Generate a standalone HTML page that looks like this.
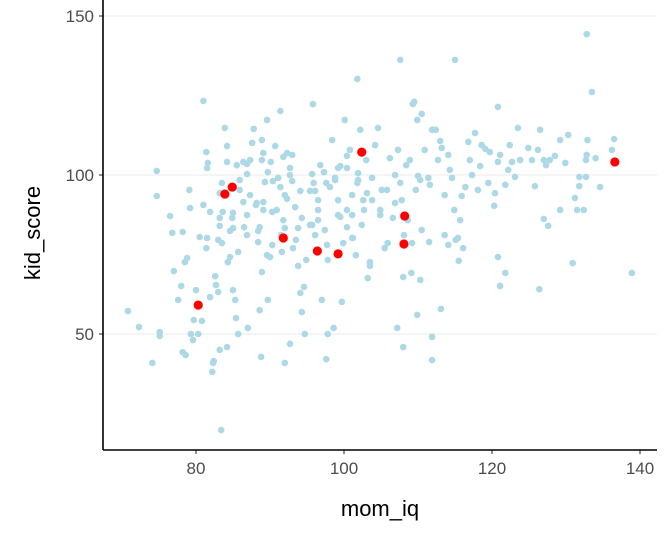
<!DOCTYPE html>
<html><head><meta charset="utf-8"><style>
html,body{margin:0;padding:0;background:#fff;}
svg{display:block;font-family:"Liberation Sans",sans-serif;}
</style></head><body>
<svg id="chart" width="672" height="537" viewBox="0 0 672 537" xmlns="http://www.w3.org/2000/svg">
<g id="grid"></g>
<g id="pts"></g>
<g id="hl"></g>
<g id="axes"></g>
<text x="380" y="516" text-anchor="middle" font-size="22" fill="#000">mom_iq</text>
<text transform="translate(40,233) rotate(-90)" text-anchor="middle" font-size="22" fill="#000">kid_score</text>
</svg>
<script>
const momIq=[70.8,72.3,74.1,74.7,74.7,75.1,75.1,76.5,77.0,76.8,77.6,78.0,78.2,78.2,78.5,78.6,78.8,79.1,79.2,79.3,79.6,79.7,80.0,80.3,80.5,80.8,81.0,81.0,81.4,81.6,81.4,81.9,82.2,82.4,82.6,82.7,83.0,83.0,83.2,83.2,83.5,83.9,84.2,84.3,84.6,85.0,85.3,85.4,85.9,85.9,86.5,86.9,87.3,87.6,87.8,88.1,88.4,88.6,88.9,88.9,89.1,89.3,89.7,90.0,90.3,90.7,91.1,91.5,91.8,92.0,92.7,93.0,93.5,93.8,94.1,94.3,94.6,94.9,95.4,95.9,96.5,96.8,97.0,97.4,97.8,98.1,98.4,98.8,99.2,99.5,99.7,100.1,100.4,100.8,101.1,101.2,101.6,101.9,102.2,102.4,102.7,103.0,103.2,103.5,103.8,104.2,104.6,104.9,105.1,105.5,105.9,106.2,106.9,107.3,107.6,107.8,108.1,108.4,108.6,108.9,109.2,109.5,109.7,110.0,110.3,110.5,110.9,111.4,111.6,111.9,112.4,112.7,113.0,113.2,113.6,114.1,114.3,114.6,114.9,115.1,115.4,115.7,115.9,116.4,116.8,117.0,117.3,117.7,118.1,118.4,118.6,119.1,119.5,119.7,120.4,120.8,121.1,121.8,122.2,122.4,122.7,123.1,123.5,123.8,124.9,125.4,125.8,126.2,126.5,127.0,127.3,127.8,128.5,129.2,129.9,130.3,131.2,131.8,132.4,132.7,132.9,134.6,136.2,133.5,132.8,136.5,132.8,134.0,131.8,132.7,138.9,130.9,126.4,120.8,121.8,121.1,115.5,113.1,109.9,107.2,108.0,111.9,111.9,108.0,109.1,110.3,111.5,114.1,113.6,116.1,127.0,127.6,129.2,131.5,120.3,107.6,115.0,120.8,109.3,110.5,109.9,101.8,95.8,91.4,89.6,83.4,82.3,92.0,88.8,97.6,92.7,94.7,98.6,97.8,87.0,85.7,84.2,83.2,
81.5,84.2,85.5,86.4,86.9,88.9,89.1,90.1,89.7,91.8,92.3,92.7,89.3,90.4,91.4,93.0,94.1,95.4,96.1,95.7,97.3,97.6,98.8,99.2,100.4,100.4,101.9,101.8,103.1,86.4,87.3,88.2,89.1,90.3,90.9,86.9,85.0,84.9,83.2,83.6,81.9,92.3,93.4,94.3,95.7,96.5,96.5,99.2,99.5,100.4,101.1,102.6,103.8,104.9,106.6,105.8,106.9,92.0,93.8,88.6,85.0,86.9,88.4,81.5,83.5,85.7,84.6,89.6,91.6,93.1,96.1,97.7,99.9,101.1,103.5];
const kidScore=[57.2,52.2,40.9,101.3,93.4,50.6,49.4,87.1,69.8,81.8,60.7,65.1,82.1,44.3,72.6,43.4,73.9,95.3,89.6,50.0,48.1,54.4,63.8,50.0,80.5,54.1,123.3,90.6,107.2,103.8,77.0,61.6,38.1,41.5,68.2,65.4,63.2,79.6,84.0,94.3,97.5,114.8,109.1,72.6,82.4,63.8,60.7,55.0,95.3,98.4,83.6,103.5,104.7,110.1,114.5,90.6,82.4,57.5,104.7,69.5,91.5,97.8,60.7,74.2,78.0,109.1,99.1,81.1,85.8,93.7,102.2,106.3,79.6,71.4,62.9,56.9,64.8,73.3,84.3,97.5,89.0,103.1,60.7,82.7,73.3,96.2,111.0,99.1,87.4,102.8,60.1,117.3,89.0,107.9,93.7,80.2,74.8,98.4,114.2,84.3,89.0,104.7,67.6,71.4,99.1,109.4,114.8,89.0,95.3,77.0,78.6,105.3,100.0,107.9,97.5,92.1,81.1,103.1,85.8,104.7,78.6,123.0,95.3,99.7,98.4,82.7,107.9,99.1,96.9,114.2,114.2,104.7,110.7,108.5,93.7,106.3,101.6,99.1,89.0,79.6,80.2,85.8,93.4,96.2,110.4,104.7,100.0,113.2,95.3,102.8,109.4,108.2,97.5,107.2,94.3,104.1,106.3,96.9,101.6,109.4,104.1,99.4,114.8,104.7,108.5,104.7,96.5,107.9,114.2,104.7,103.1,104.7,106.0,111.0,103.8,112.6,92.8,96.5,89.0,104.7,111.0,96.2,107.9,126.1,144.3,111.3,106.3,105.3,99.4,99.4,69.2,72.3,64.1,74.2,69.2,65.1,73.0,57.9,56.0,51.9,45.9,49.1,41.8,67.9,69.2,67.0,78.9,78.0,81.1,77.0,86.2,84.0,89.0,89.0,90.3,136.2,136.2,121.4,122.3,119.2,117.3,130.2,122.3,120.1,117.3,19.8,40.9,40.9,42.8,42.1,46.9,50.0,51.9,50.0,51.9,50.0,45.9,45.0,
102.2,104.1,103.1,104.1,100.3,111.0,106.9,104.1,100.9,105.7,106.9,100.0,97.8,98.1,96.2,98.1,95.0,95.0,95.0,100.3,100.9,97.5,98.4,102.2,102.2,106.0,100.6,97.5,94.3,91.5,93.7,91.2,89.0,88.4,89.0,87.4,88.1,86.5,86.5,88.4,88.4,92.5,89.9,86.5,84.3,85.8,92.1,92.1,86.8,83.6,87.4,92.1,92.1,87.4,86.5,95.3,91.2,83.3,83.3,83.6,83.3,81.1,78.9,80.2,78.6,75.8,74.2,74.8,75.8,77.0,81.1,78.0,78.6,80.2,72.6];
const hlMomIq=[83.9,84.9,102.4,91.8,80.3,96.4,99.2,108.2,108.1,136.6];
const hlKidScore=[94.0,96.2,107.2,80.2,59.1,76.1,75.2,87.1,78.3,104.1];
const xTicks=[80,100,120,140];
const yTicks=[50,100,150];

const NS="http://www.w3.org/2000/svg";
const xs=v=>196+(v-80)*7.4;
const ys=v=>175-(v-100)*3.18;
const L=103,R=657,B=450;
function mk(tag,attrs,parent){const e=document.createElementNS(NS,tag);for(const k in attrs)e.setAttribute(k,attrs[k]);parent.appendChild(e);return e;}
const grid=document.getElementById('grid'),pts=document.getElementById('pts'),hl=document.getElementById('hl'),axes=document.getElementById('axes');
yTicks.forEach(t=>{
  const g=mk('line',{x1:L,x2:R,y1:ys(t),y2:ys(t),stroke:'#ebebeb','stroke-width':1.1},grid);
  
  
  const tk=mk('line',{x1:L-4,x2:L,y1:ys(t),y2:ys(t),stroke:'#333','stroke-width':1.1},axes);
  
  
  const lb=mk('text',{x:L-9,y:ys(t)+6,'text-anchor':'end','font-size':17,fill:'#4d4d4d'},axes);
  lb.textContent=t;
  
  
});
xTicks.forEach(t=>{
  const tk=mk('line',{x1:xs(t),x2:xs(t),y1:B,y2:B+4,stroke:'#333','stroke-width':1.1},axes);
  
  
  const lb=mk('text',{x:xs(t),y:B+24,'text-anchor':'middle','font-size':17,fill:'#4d4d4d'},axes);
  lb.textContent=t;
  
  
});
const ya=mk('line',{x1:L,x2:L,y1:0,y2:B,stroke:'#000','stroke-width':1.6},axes);


const xa=mk('line',{x1:L,x2:R,y1:B,y2:B,stroke:'#000','stroke-width':1.6},axes);


momIq.forEach((v,i)=>{
  const c=mk('circle',{cx:xs(v),cy:ys(kidScore[i]),r:3.3,fill:'#add8e6'},pts);
  
  
});
hlMomIq.forEach((v,i)=>{
  const c=mk('circle',{cx:xs(v),cy:ys(hlKidScore[i]),r:4.6,fill:'#ff0000'},hl);
  
  
});
</script>
</body></html>
